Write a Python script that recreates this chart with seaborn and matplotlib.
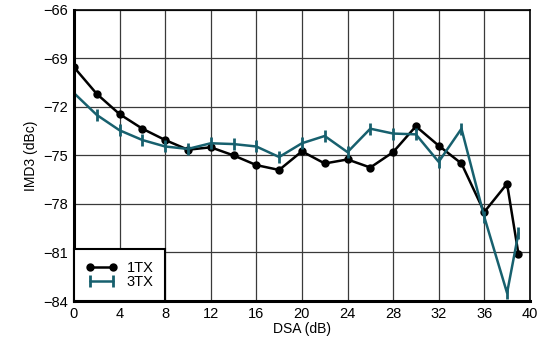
import numpy as np
import pandas as pd
import seaborn as sns
import matplotlib
matplotlib.use('Agg')
import matplotlib.pyplot as plt

dsa = [0, 2, 4, 6, 8, 10, 12, 14, 16, 18, 20, 22, 24, 26, 28, 30, 32, 34, 36, 38, 39]
imd3_1tx = [-69.55, -71.2, -72.45, -73.35, -74.05, -74.65, -74.5, -75.0, -75.6, -75.9,
            -74.75, -75.5, -75.25, -75.75, -74.8, -73.2, -74.4, -75.5, -78.5, -76.75, -81.1]
imd3_3tx = [-71.15, -72.5, -73.45, -74.05, -74.45, -74.6, -74.25, -74.3, -74.45, -75.1,
            -74.25, -73.8, -74.8, -73.35, -73.65, -73.7, -75.4, -73.35, -78.8, -83.5, -79.8]
series = ['1TX', '3TX']

df = pd.DataFrame({
    'DSA': dsa * 2,
    'IMD3': imd3_1tx + imd3_3tx,
    'Mode': ['1TX'] * len(dsa) + ['3TX'] * len(dsa),
})

sns.set_style('white')
plt.rcParams['font.family'] = ['Liberation Sans', 'DejaVu Sans']

fig = plt.figure(figsize=(5.44, 3.49), dpi=100)
ax = fig.add_axes([0.136, 0.1375, 0.838, 0.8345])

colors = {'1TX': 'black', '3TX': '#17606e'}
markers = {'1TX': 'o', '3TX': '|'}
for s in series:
    sub = df[df['Mode'] == s]
    sns.lineplot(data=sub, x='DSA', y='IMD3', ax=ax, color=colors[s], lw=1.8,
                 marker=markers[s], markersize=4.5 if s == '1TX' else 9,
                 markeredgewidth=1.5 if s == '1TX' else 2,
                 markeredgecolor=colors[s], label=s)

ax.set_xlim(0, 40)
ax.set_ylim(-84, -66)
ax.set_xticks(np.arange(0, 41, 4))
ax.set_yticks(np.arange(-84, -65, 3))
ax.grid(True, color='#3a3a3a', lw=0.9)
ax.set_axisbelow(True)
ax.tick_params(labelsize=10.5, length=0, pad=4, labelcolor='black')
ax.set_xlabel('DSA (dB)', fontsize=10, labelpad=1, color='black')
ax.set_ylabel('IMD3 (dBc)', fontsize=10, labelpad=4, color='black')
for side in ['top', 'right']:
    ax.spines[side].set_linewidth(1.2)
    ax.spines[side].set_color('black')
for side in ['left', 'bottom']:
    ax.spines[side].set_linewidth(2.2)
    ax.spines[side].set_color('black')

leg = ax.legend(loc='lower left', bbox_to_anchor=(0, 0), borderaxespad=0,
                fancybox=False, edgecolor='black', framealpha=1, fontsize=10.5,
                numpoints=2, handlelength=2.2, labelspacing=0.05,
                borderpad=0.8, handletextpad=0.6)
leg.get_frame().set_linewidth(1.5)
for t in leg.get_texts():
    t.set_color('black')

fig.savefig('out.png', dpi=100)
